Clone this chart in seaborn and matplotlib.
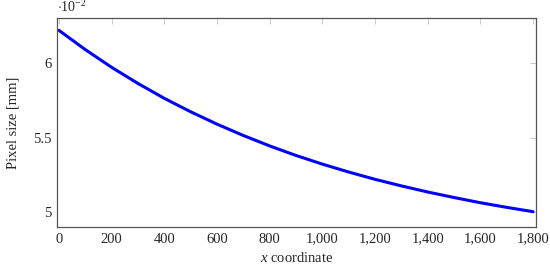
import matplotlib
matplotlib.use("Agg")
import matplotlib.pyplot as plt
import matplotlib.ticker as mticker
import seaborn as sns
import pandas as pd

# x coordinate vs pixel size in mm
x_coord = [0, 100, 200, 300, 400, 500, 600, 700, 800, 900,
           1000, 1100, 1200, 1300, 1400, 1500, 1600, 1700, 1800]
pixel_size_mm = [0.06219, 0.06090, 0.05971, 0.05863, 0.05763, 0.05673, 0.05590,
                 0.05514, 0.05444, 0.05380, 0.05322, 0.05269, 0.05220, 0.05176,
                 0.05135, 0.05098, 0.05063, 0.05032, 0.05003]
x_ticks = [0, 200, 400, 600, 800, 1000, 1200, 1400, 1600, 1800]
y_ticks = [5, 5.5, 6]

df = pd.DataFrame({"x": x_coord, "size": [v * 100 for v in pixel_size_mm]})

sns.set_style("white")
plt.rcParams["font.family"] = ["Liberation Serif", "DejaVu Serif"]
plt.rcParams["mathtext.fontset"] = "custom"
plt.rcParams["mathtext.rm"] = "Liberation Serif"
plt.rcParams["mathtext.it"] = "Liberation Serif:italic"

fig = plt.figure(figsize=(5.5, 2.64), dpi=100)
ax = fig.add_axes([0.1036, 0.140, 0.8709, 0.7918])

sns.lineplot(data=df, x="x", y="size", color="#0000ff", linewidth=2.2,
             solid_joinstyle="round", solid_capstyle="round", ax=ax)

ax.set_xlim(-7.6, 1811)
ax.set_ylim(4.90, 6.302)
ax.set_xticks(x_ticks)
ax.set_yticks(y_ticks)
ax.xaxis.set_major_formatter(mticker.FuncFormatter(lambda v, p: f"{v:,.0f}"))
ax.yaxis.set_major_formatter(mticker.FuncFormatter(lambda v, p: f"{v:g}"))
ax.tick_params(direction="in", length=4, width=0.6, color="#c0c0c0",
               labelsize=10.5, top=True, right=True, pad=4)

for s in ax.spines.values():
    s.set_color("#555555")
    s.set_linewidth(0.9)

ax.set_xlabel("$x$ coordinate", fontsize=10.5, labelpad=4)
ax.set_ylabel("Pixel size [mm]", fontsize=10.5, labelpad=10)
ax.text(0.0, 1.03, r"$\cdot10^{-2}$", transform=ax.transAxes,
        fontsize=10, ha="left", va="baseline")

fig.savefig("out.png", dpi=100)
